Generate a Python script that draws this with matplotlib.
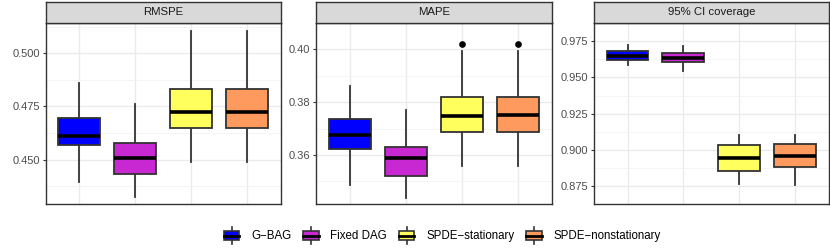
import matplotlib
matplotlib.use("Agg")
import matplotlib.pyplot as plt
from matplotlib.patches import Rectangle
from matplotlib.lines import Line2D
from matplotlib.legend_handler import HandlerBase

plt.rcParams['font.family'] = ['Liberation Sans', 'DejaVu Sans']

methods = ['G−BAG', 'Fixed DAG', 'SPDE−stationary', 'SPDE−nonstationary']
colors = ['#0000FF', '#C828D2', '#FFFF5E', '#FF9A5E']
metrics = ['RMSPE', 'MAPE', '95% CI coverage']

# box summaries: whislo, q1, med, q3, whishi
rmspe_stats = [
    [0.4392, 0.4567, 0.4610, 0.4695, 0.4859],
    [0.4323, 0.4434, 0.4505, 0.4576, 0.4763],
    [0.4487, 0.4650, 0.4725, 0.4834, 0.5105],
    [0.4487, 0.4650, 0.4725, 0.4834, 0.5105],
]
mape_stats = [
    [0.3487, 0.3623, 0.3674, 0.3736, 0.3862],
    [0.3438, 0.3522, 0.3588, 0.3630, 0.3772],
    [0.3557, 0.3688, 0.3749, 0.3820, 0.3993],
    [0.3557, 0.3688, 0.3750, 0.3820, 0.3993],
]
coverage_stats = [
    [0.9585, 0.9618, 0.9650, 0.9679, 0.9721],
    [0.9546, 0.9606, 0.9635, 0.9666, 0.9715],
    [0.8765, 0.8857, 0.8946, 0.9037, 0.9102],
    [0.8759, 0.8880, 0.8955, 0.9044, 0.9102],
]
rmspe_out = [[], [], [], []]
mape_out = [[], [], [0.4022], [0.4022]]
coverage_out = [[], [], [], []]

all_stats = [rmspe_stats, mape_stats, coverage_stats]
all_out = [rmspe_out, mape_out, coverage_out]
yticks = [[0.450, 0.475, 0.500], [0.36, 0.38, 0.40], [0.875, 0.900, 0.925, 0.950, 0.975]]
ytick_labels = [['0.450', '0.475', '0.500'], ['0.36', '0.38', '0.40'],
                ['0.875', '0.900', '0.925', '0.950', '0.975']]
ylims = [(0.4289, 0.5143), (0.3413, 0.4044), (0.8717, 0.9767)]

W, H = 830, 249
fig = plt.figure(figsize=(W / 100, H / 100), dpi=100)

panels_px = [(45.5, 281), (316, 551.7), (594, 828.7)]
top_px, bot_px, strip_top = 23, 204.3, 1.5
dark = '#333333'

for k in range(3):
    x0, x1 = panels_px[k]
    ax = fig.add_axes([x0 / W, 1 - bot_px / H, (x1 - x0) / W, (bot_px - top_px) / H])
    st = fig.add_axes([x0 / W, 1 - top_px / H, (x1 - x0) / W, (top_px - strip_top) / H])

    stats = []
    for i in range(4):
        lo, q1, med, q3, hi = all_stats[k][i]
        stats.append(dict(whislo=lo, q1=q1, med=med, q3=q3, whishi=hi, fliers=all_out[k][i]))
    bp = ax.bxp(stats, positions=[1, 2, 3, 4], widths=0.75, patch_artist=True, showcaps=False,
                boxprops=dict(edgecolor=dark, linewidth=1.3),
                medianprops=dict(color='black', linewidth=2.6, solid_capstyle='butt'),
                whiskerprops=dict(color=dark, linewidth=1.3),
                flierprops=dict(marker='o', markerfacecolor='black', markeredgecolor='black', markersize=3.8))
    for patch, c in zip(bp['boxes'], colors):
        patch.set_facecolor(c)
    for b in bp['boxes']:
        b.set_zorder(3)
    for m in bp['medians']:
        m.set_zorder(4)

    ax.set_xlim(0.4, 4.6)
    ax.set_ylim(*ylims[k])
    ax.set_yticks(yticks[k])
    ax.set_yticklabels(ytick_labels[k])
    yt = yticks[k]
    step = yt[1] - yt[0]
    minors = [yt[0] - step / 2] + [v + step / 2 for v in yt]
    ax.set_yticks(minors, minor=True)
    ax.set_xticks([1, 2, 3, 4])
    ax.set_xticklabels([])
    ax.tick_params(axis='x', length=0)
    ax.tick_params(axis='y', which='major', length=2.5, width=0.8, color=dark,
                   labelsize=8, labelcolor='#4D4D4D', pad=1.5)
    ax.tick_params(axis='y', which='minor', length=0)
    ax.grid(True, which='major', color='#EBEBEB', linewidth=1.0)
    ax.grid(True, which='minor', axis='y', color='#F2F2F2', linewidth=0.6)
    ax.set_axisbelow(True)
    for sp in ax.spines.values():
        sp.set_color(dark)
        sp.set_linewidth(1.0)

    st.set_facecolor('#D9D9D9')
    st.set_xticks([])
    st.set_yticks([])
    for sp in st.spines.values():
        sp.set_color(dark)
        sp.set_linewidth(1.0)
    st.text(0.5, 0.5, metrics[k], ha='center', va='center', fontsize=8.2, color='#1A1A1A',
            transform=st.transAxes)


class BoxKey(HandlerBase):
    def create_artists(self, legend, orig_handle, xdescent, ydescent, width, height, fontsize, trans):
        x0, y0 = -xdescent, -ydescent
        cx = x0 + width / 2
        bh = height * 0.6
        by = y0 + (height - bh) / 2
        arts = [
            Line2D([cx, cx], [y0 - 1, y0 + height + 1], color=dark, lw=1.2),
            Rectangle((x0 + 0.5, by), width - 1, bh, facecolor=orig_handle.get_facecolor(),
                      edgecolor=dark, lw=1.2),
            Line2D([x0 + 0.5, x0 + width - 0.5], [by + bh / 2, by + bh / 2], color='black', lw=2.0),
        ]
        for a in arts:
            a.set_transform(trans)
        return arts


handles = [Rectangle((0, 0), 1, 1, facecolor=c) for c in colors]
fig.legend(handles, methods, loc='center', bbox_to_anchor=(442 / W, 1 - 235.5 / H), ncol=4,
           frameon=False, fontsize=8.3, handler_map={Rectangle: BoxKey()},
           handlelength=1.45, handleheight=1.5, handletextpad=0.95, columnspacing=1.0,
           borderpad=0.2)

fig.savefig('out.png', dpi=100)
